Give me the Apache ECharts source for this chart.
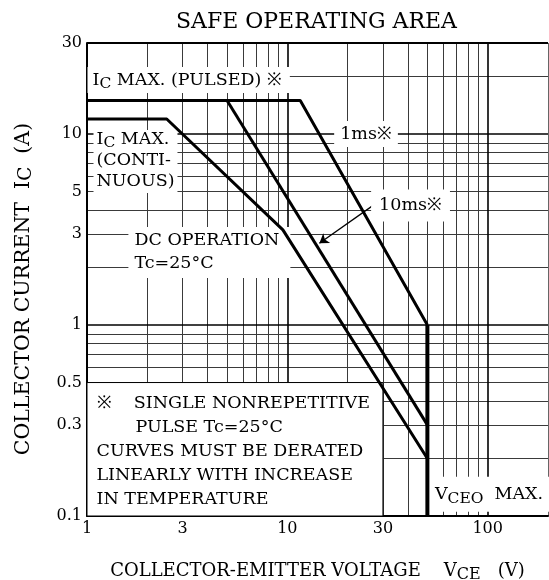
<!DOCTYPE html>
<html>
<head>
<meta charset="UTF-8">
<title>SAFE OPERATING AREA</title>
<script src="https://cdn.jsdelivr.net/npm/echarts@6/dist/echarts.min.js"></script>
<style>
  body{margin:0;background:#fff}
</style>
</head>
<body>
<div id="main" style="width:549px;height:580px"></div>
<script>
// axis range and tick labels
var xMin = 1, xMax = 200, yMin = 0.1, yMax = 30;
var xTicks = [1, 3, 10, 30, 100];
var yTicks = [0.1, 0.3, 0.5, 1, 3, 5, 10, 30];

// log grid lines
var xGrid = [2, 3, 4, 5, 6, 7, 8, 9, 20, 30, 40, 50, 60, 70, 80, 90];
var xGridMajor = [10, 100];
var yGrid = [0.2, 0.3, 0.4, 0.5, 0.6, 0.7, 0.8, 0.9, 2, 3, 4, 5, 6, 7, 8, 9, 20];
var yGridMajor = [1, 10];

// curves, points are [VCE (V), IC (A)]
var pulse1ms = [[1, 15], [11.6, 15], [50, 1]];
var pulse10ms = [[5, 15], [50, 0.3]];
var dcOperation = [[1, 12], [2.5, 12], [9.5, 3.15], [50, 0.2]];
var vceoMax = [[50, 1], [50, 0.1]];

var FONT = '"DejaVu Serif", serif';

function vLines(xs) {
  return xs.map(function (v) { return {coords: [[v, yMin], [v, yMax]]}; });
}
function hLines(ys) {
  return ys.map(function (v) { return {coords: [[xMin, v], [xMax, v]]}; });
}
// rich styles with a lowered subscript
function subRich(size, lh) {
  return {
    n: {fontFamily: FONT, fontSize: size, lineHeight: lh, verticalAlign: 'top', color: '#000'},
    s: {fontFamily: FONT, fontSize: size - 2, lineHeight: lh, verticalAlign: 'bottom', color: '#000'}
  };
}
function tag(coord, text, label) {
  var l = {
    show: true, formatter: text, color: '#000', fontFamily: FONT, fontSize: 17.5,
    backgroundColor: '#fff'
  };
  for (var k in label) l[k] = label[k];
  return {
    coord: coord, symbol: 'rect', symbolSize: 1,
    itemStyle: {color: 'rgba(0,0,0,0)'}, label: l
  };
}

var myChart = echarts.init(document.getElementById('main'));

function curve(name, data, width) {
  return {
    name: name, type: 'line', data: data, z: 6, symbol: 'none', silent: true,
    animation: false, lineStyle: {color: '#000', width: width}
  };
}

var option = {
  animation: false,
  backgroundColor: '#fff',
  title: {
    text: 'SAFE OPERATING AREA', left: 171, top: 6,
    textStyle: {fontFamily: FONT, fontSize: 22, fontWeight: 'normal', color: '#000'}
  },
  grid: {left: 87, right: 1, top: 43, bottom: 64, outerBoundsMode: 'none'},
  xAxis: {
    type: 'log', logBase: 10, min: xMin, max: xMax,
    name: '{n|COLLECTOR-EMITTER VOLTAGE    V}{s|CE}{n|   (V)}',
    nameLocation: 'middle', nameGap: 46,
    nameTextStyle: {fontFamily: FONT, fontSize: 18, color: '#000', rich: subRich(18, 21)},
    axisLine: {show: true, lineStyle: {color: '#000', width: 2}},
    axisTick: {show: false},
    splitLine: {show: false},
    minorSplitLine: {show: false},
    axisLabel: {
      customValues: xTicks, margin: 5, color: '#000', fontFamily: FONT, fontSize: 16,
      formatter: function (v) { return String(v); }
    }
  },
  yAxis: {
    type: 'log', logBase: 10, min: yMin, max: yMax,
    name: '{n|COLLECTOR CURRENT  I}{s|C}{n|  (A)}',
    nameLocation: 'middle', nameRotate: 90, nameGap: 51,
    nameTextStyle: {fontFamily: FONT, fontSize: 20.5, color: '#000', padding: [0, 19, 0, 0], rich: subRich(20.5, 23)},
    axisLine: {show: true, lineStyle: {color: '#000', width: 2}},
    axisTick: {show: false},
    splitLine: {show: false},
    minorSplitLine: {show: false},
    axisLabel: {
      customValues: yTicks, margin: 5, color: '#000', fontFamily: FONT, fontSize: 16,
      formatter: function (v) { return String(v); }
    }
  },
  series: [
    {
      name: 'grid', type: 'lines', coordinateSystem: 'cartesian2d', z: 0, silent: true,
      lineStyle: {color: '#3a3a3a', width: 1, opacity: 1},
      data: vLines(xGrid).concat(hLines(yGrid))
    },
    {
      name: 'gridMajor', type: 'lines', coordinateSystem: 'cartesian2d', z: 0, silent: true,
      lineStyle: {color: '#000', width: 1.6, opacity: 1},
      data: vLines(xGridMajor).concat(hLines(yGridMajor))
    },
    {
      name: 'frameTop', type: 'lines', coordinateSystem: 'cartesian2d', z: 0, silent: true,
      lineStyle: {color: '#000', width: 2, opacity: 1},
      data: [{coords: [[xMin, yMax], [xMax, yMax]]}]
    },
    {
      name: 'frameRight', type: 'lines', coordinateSystem: 'cartesian2d', z: 0, silent: true,
      lineStyle: {color: '#666', width: 1, opacity: 1},
      data: [{coords: [[xMax, yMin], [xMax, yMax]]}]
    },
    {
      name: 'notes', type: 'line', data: [], silent: true,
      markArea: {
        silent: true,
        itemStyle: {color: '#fff', borderColor: '#000', borderWidth: 1},
        data: [[{coord: [xMin, yMin]}, {coord: [30, 0.5]}]]
      },
      markLine: {
        silent: true, symbol: ['none', 'arrow'], symbolSize: 9,
        label: {show: false},
        lineStyle: {color: '#000', width: 1.3, type: 'solid'},
        data: [[{coord: [28.5, 4.43]}, {coord: [14.45, 2.68]}]]
      },
      markPoint: {
        silent: true,
        data: [
          tag([1, 19.2], '{n|I}{s|C}{n| MAX. (PULSED) ※}',
            {position: 'right', distance: 0, padding: [4, 8, 1, 5], rich: subRich(17.5, 21)}),
          tag([1, 7.19], '{n|I}{s|C}{n| MAX.}\n{n|(CONTI-}\n{n|NUOUS)}',
            {position: 'right', distance: 6, padding: [0, 3, 0, 3], rich: subRich(17.5, 21)}),
          tag([24.7, 10], '1ms※', {position: 'inside', padding: [3, 6, 3, 6], lineHeight: 20}),
          tag([41.2, 4.23], '10ms※', {position: 'inside', padding: [7, 8, 7, 8], lineHeight: 18}),
          tag([1.6, 2.4], 'DC OPERATION\nTc=25°C',
            {position: 'right', distance: 0, padding: [3, 11, 2, 6], lineHeight: 23}),
          tag([50, 0.13], '{n|V}{s|CEO}{n|  MAX.}',
            {position: 'right', distance: 2, padding: [9, 8, 5, 5], rich: subRich(17.5, 21)}),
          tag([1, 0.219],
            '※    SINGLE NONREPETITIVE\n       PULSE Tc=25°C\nCURVES MUST BE DERATED\nLINEARLY WITH INCREASE\nIN TEMPERATURE',
            {position: 'right', distance: 9, backgroundColor: 'transparent', lineHeight: 24})
        ]
      }
    },
    curve('1ms', pulse1ms, 3),
    curve('10ms', pulse10ms, 3),
    curve('DC', dcOperation, 3),
    curve('VCEO MAX.', vceoMax, 4)
  ]
};
myChart.setOption(option);
</script>
</body>
</html>
